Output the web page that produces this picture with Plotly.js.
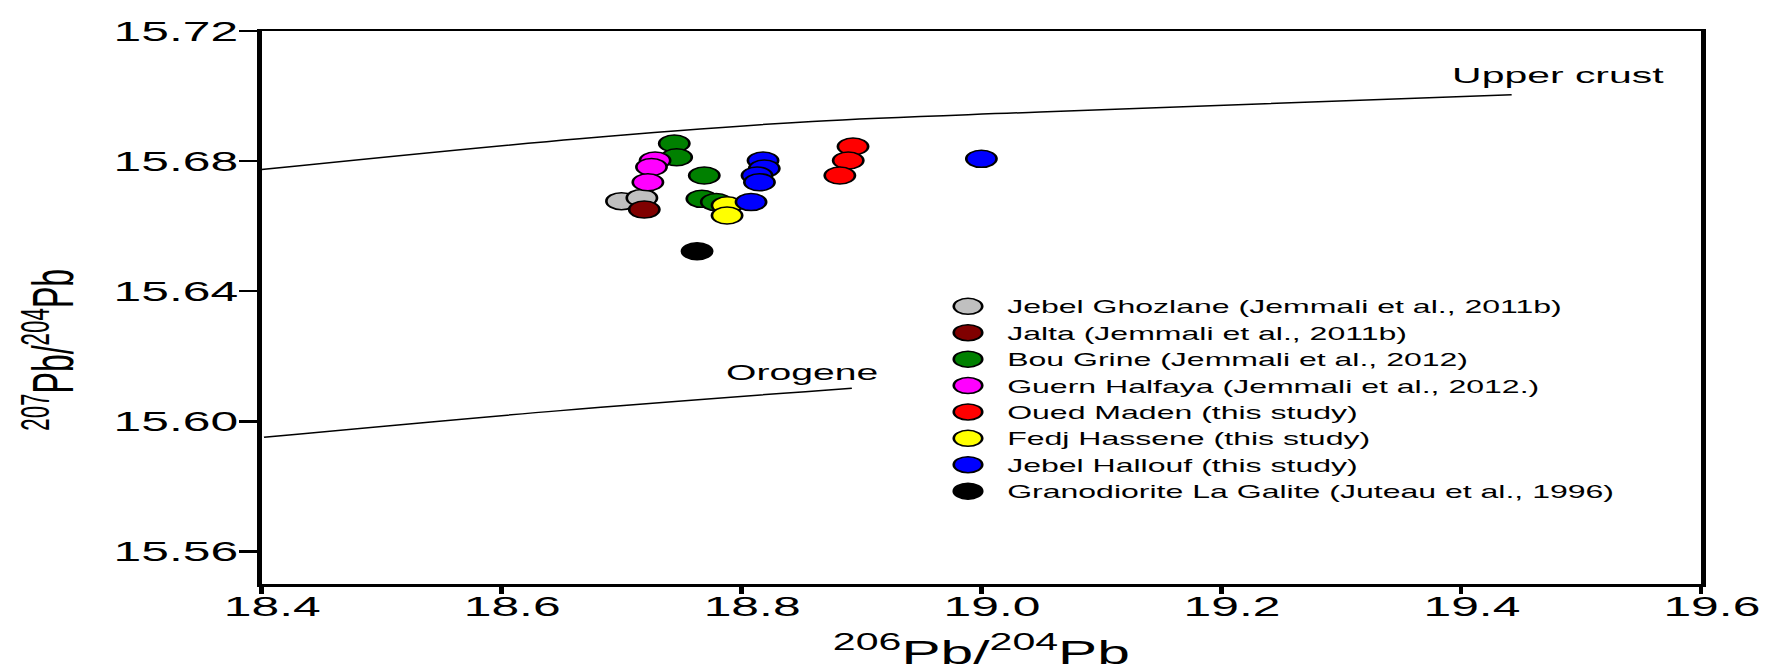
<!DOCTYPE html>
<html>
<head>
<meta charset="utf-8">
<script src="https://cdn.plot.ly/plotly-3.0.1.min.js"></script>
<style>
html, body { margin: 0; padding: 0; overflow: hidden; background: #ffffff; width: 1767px; height: 671px; }
#chart { width: 993px; height: 671px; transform: scaleX(1.7795); transform-origin: 0 0; }
</style>
</head>
<body>
<div id="chart"></div>
<script>
// ---- data ----
const groupNames = [
  "Jebel Ghozlane (Jemmali et al., 2011b)",
  "Jalta (Jemmali et al., 2011b)",
  "Bou Grine (Jemmali et al., 2012)",
  "Guern Halfaya (Jemmali et al., 2012.)",
  "Oued Maden (this study)",
  "Fedj Hassene (this study)",
  "Jebel Hallouf (this study)",
  "Granodiorite La Galite (Juteau et al., 1996)"
];
const groupColors = ["#c0c0c0", "#800000", "#008000", "#ff00ff", "#ff0000", "#ffff00", "#0000ff", "#000000"];

const ghozlaneX = [18.700, 18.717];
const ghozlaneY = [15.6677, 15.6687];
const jaltaX = [18.719];
const jaltaY = [15.6651];
const bouGrineX = [18.744, 18.746, 18.769, 18.767, 18.779];
const bouGrineY = [15.6854, 15.6812, 15.6756, 15.6684, 15.6674];
const guernHalfayaX = [18.728, 18.725, 18.722];
const guernHalfayaY = [15.6802, 15.6782, 15.6735];
const ouedMadenX = [18.893, 18.889, 18.882];
const ouedMadenY = [15.6845, 15.6802, 15.6756];
const fedjHasseneX = [18.788, 18.788];
const fedjHasseneY = [15.6664, 15.6633];
const jebelHalloufX = [18.818, 18.819, 18.813, 18.815, 18.808, 19.000];
const jebelHalloufY = [15.6802, 15.6777, 15.6756, 15.6735, 15.6674, 15.6807];
const laGaliteX = [18.763];
const laGaliteY = [15.6523];

const upperCrustX = [18.400, 18.665, 18.859, 19.049, 19.442];
const upperCrustY = [15.6774, 15.6869, 15.6922, 15.6951, 15.7004];
const orogeneX = [18.402, 18.649, 18.892];
const orogeneY = [15.5951, 15.6033, 15.6102];

const curveLabels = ["Upper crust", "Orogene"];
const curveLabelX = [19.48, 18.851];
const curveLabelY = [15.7064, 15.6150];

const xTickVals = [18.4, 18.6, 18.8, 19.0, 19.2, 19.4, 19.6];
const xTickText = ["18.4", "18.6", "18.8", "19.0", "19.2", "19.4", "19.6"];
const yTickVals = [15.56, 15.60, 15.64, 15.68, 15.72];
const yTickText = ["15.56", "15.60", "15.64", "15.68", "15.72"];

const xTitle = "<sup>206</sup>Pb/<sup>204</sup>Pb";
const yTitle = "<sup>207</sup>Pb/<sup>204</sup>Pb";

// ---- traces ----
const groupX = [ghozlaneX, jaltaX, bouGrineX, guernHalfayaX, ouedMadenX, fedjHasseneX, jebelHalloufX, laGaliteX];
const groupY = [ghozlaneY, jaltaY, bouGrineY, guernHalfayaY, ouedMadenY, fedjHasseneY, jebelHalloufY, laGaliteY];

const font = "Liberation Sans, Arial, sans-serif";
const traces = [
  { x: upperCrustX, y: upperCrustY, mode: "lines", line: { color: "#000", width: 1.5, shape: "spline" }, showlegend: false, hoverinfo: "skip" },
  { x: orogeneX, y: orogeneY, mode: "lines", line: { color: "#000", width: 1.5, shape: "spline" }, showlegend: false, hoverinfo: "skip" }
];
groupNames.forEach((name, i) => {
  traces.push({
    x: groupX[i], y: groupY[i], name: name, type: "scatter", mode: "markers",
    marker: { size: 17, color: groupColors[i], line: { color: "#000", width: 1.5 } }
  });
});

const layout = {
  width: 993, height: 671,
  margin: { l: 147, r: 37, t: 30.7, b: 86.7 },
  paper_bgcolor: "#fff", plot_bgcolor: "#fff",
  font: { family: font, color: "#000" },
  showlegend: true,
  legend: {
    x: 0.4635, xanchor: "left", y: 0.535, yanchor: "top",
    itemwidth: 34,
    bgcolor: "rgba(0,0,0,0)", borderwidth: 0,
    font: { family: font, size: 18, color: "#000" }
  },
  xaxis: {
    range: [18.4, 19.6], tickvals: xTickVals, ticktext: xTickText,
    showgrid: false, zeroline: false, showline: true, mirror: true,
    linecolor: "#000", linewidth: 2.5,
    ticks: "outside", ticklen: 7, tickwidth: 2.5, tickcolor: "#000",
    ticklabelshift: 6, ticklabelstandoff: -11,
    tickfont: { family: font, size: 28, color: "#000" },
    title: { text: xTitle, font: { family: font, size: 33, color: "#000" }, standoff: 24 }
  },
  yaxis: {
    range: [15.55, 15.72], tickvals: yTickVals, ticktext: yTickText,
    showgrid: false, zeroline: false, showline: true, mirror: true,
    linecolor: "#000", linewidth: 2.5,
    ticks: "outside", ticklen: 10, tickwidth: 2.5, tickcolor: "#000",
    ticklabelstandoff: -5,
    tickfont: { family: font, size: 28, color: "#000" }
  },
  annotations: [
    { text: curveLabels[0], x: curveLabelX[0], y: curveLabelY[0], xref: "x", yref: "y", showarrow: false, font: { family: font, size: 23, color: "#000" } },
    { text: curveLabels[1], x: curveLabelX[1], y: curveLabelY[1], xref: "x", yref: "y", showarrow: false, font: { family: font, size: 22, color: "#000" } },
    { text: yTitle, x: -0.148, y: 0.424, xref: "paper", yref: "paper", textangle: -90, showarrow: false, xanchor: "center", yanchor: "middle", font: { family: font, size: 32, color: "#000" } }
  ]
};

Plotly.newPlot("chart", traces, layout, { displayModeBar: false, staticPlot: true });
</script>
</body>
</html>
